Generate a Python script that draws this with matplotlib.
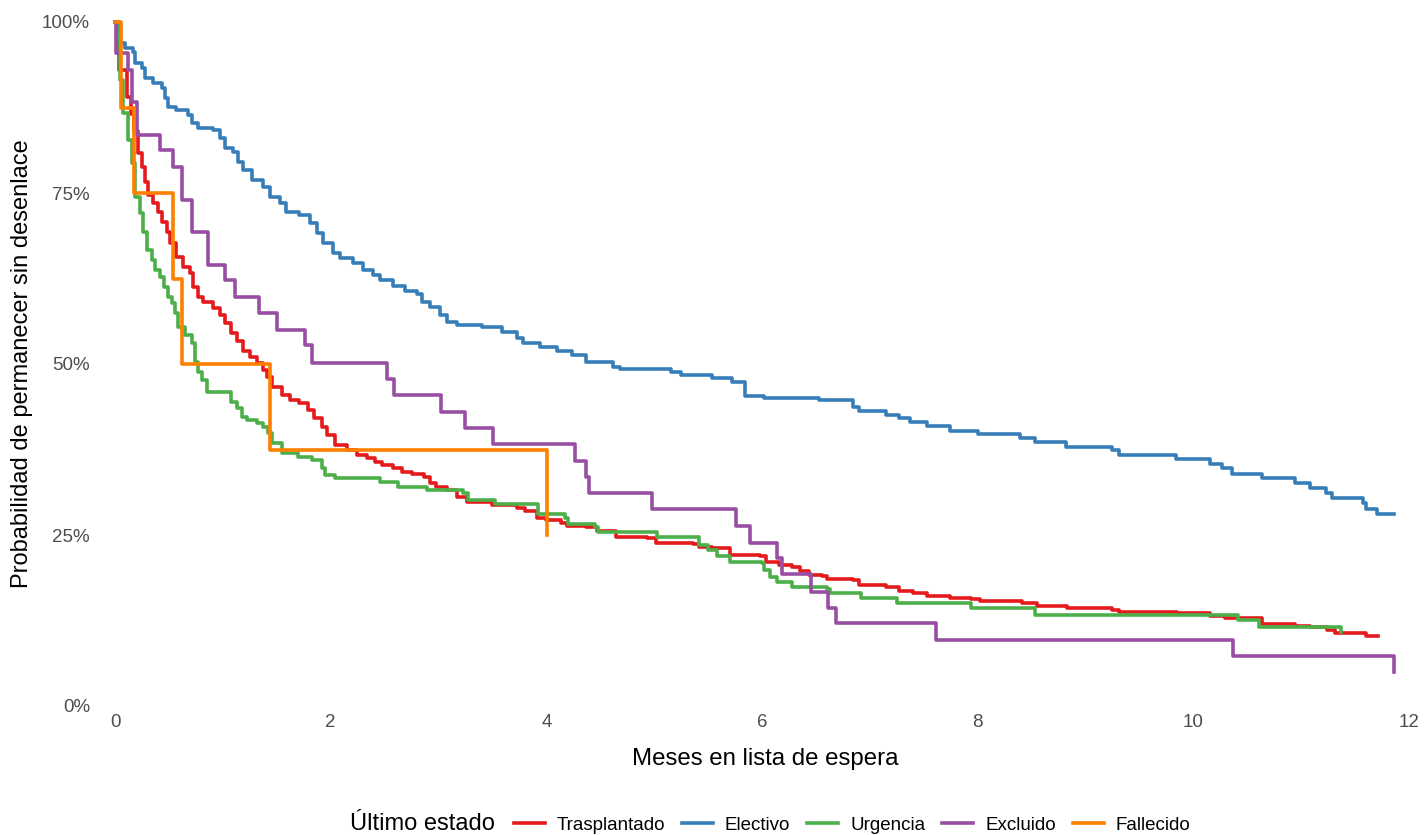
import numpy as np
import matplotlib
matplotlib.use("Agg")
import matplotlib.pyplot as plt
from matplotlib.ticker import FuncFormatter
from matplotlib.lines import Line2D

plt.rcParams['font.family'] = ['Liberation Sans', 'DejaVu Sans']

# Kaplan-Meier style curves: (months, % still waiting)
trasplantado = [(0, 100), (0.04, 93.0), (0.11, 89.0), (0.15, 86.5), (0.18, 84.0), (0.21, 80.8),
                (0.25, 78.8), (0.28, 76.6), (0.31, 74.7), (0.35, 73.5), (0.40, 72.2), (0.44, 70.8),
                (0.48, 69.3), (0.51, 67.7), (0.57, 65.6), (0.63, 64.2), (0.70, 63.3), (0.72, 61.3),
                (0.77, 59.8), (0.82, 59.0), (0.91, 58.2), (0.97, 57.2), (1.02, 56.0), (1.08, 54.5),
                (1.13, 53.4), (1.19, 51.9), (1.25, 51.0), (1.32, 50.1), (1.37, 49.1), (1.41, 48.1),
                (1.46, 46.6), (1.55, 45.5), (1.62, 44.7), (1.71, 44.3), (1.79, 43.3), (1.85, 42.1),
                (1.92, 40.8), (1.97, 39.6), (2.04, 38.2), (2.15, 37.4), (2.24, 36.7), (2.34, 36.3),
                (2.41, 35.7), (2.48, 35.2), (2.58, 34.8), (2.66, 34.2), (2.75, 33.9), (2.87, 33.5),
                (2.92, 32.6), (2.98, 32.0), (3.08, 31.6), (3.17, 30.6), (3.26, 29.8), (3.50, 29.4),
                (3.73, 28.9), (3.80, 28.5), (3.91, 27.5), (4.00, 27.2), (4.14, 26.8), (4.19, 26.3),
                (4.37, 26.2), (4.47, 25.6), (4.65, 24.7), (4.93, 24.6), (5.02, 23.8), (5.36, 23.7),
                (5.42, 23.2), (5.54, 23.1), (5.70, 22.1), (5.98, 21.9), (6.04, 21.1), (6.16, 20.6),
                (6.28, 20.3), (6.35, 19.7), (6.44, 19.2), (6.56, 19.0), (6.60, 18.6), (6.84, 18.4),
                (6.90, 17.7), (7.15, 17.4), (7.27, 16.8), (7.40, 16.5), (7.53, 16.1), (7.74, 15.8),
                (7.94, 15.6), (8.02, 15.4), (8.41, 15.1), (8.55, 14.6), (8.83, 14.3), (9.25, 14.0),
                (9.31, 13.7), (9.85, 13.6), (10.15, 13.2), (10.29, 12.9), (10.64, 12.0), (10.94, 11.7),
                (11.08, 11.5), (11.24, 11.1), (11.31, 10.7), (11.60, 10.2), (11.71, 10.2)]

electivo = [(0, 100), (0.02, 98.4), (0.05, 96.9), (0.09, 96.2), (0.17, 95.6), (0.19, 94.0),
            (0.25, 93.3), (0.28, 91.8), (0.35, 91.1), (0.44, 90.4), (0.46, 88.9), (0.49, 87.6),
            (0.57, 87.1), (0.68, 86.4), (0.71, 85.2), (0.77, 84.5), (0.91, 84.2), (0.97, 83.0),
            (1.02, 81.6), (1.09, 81.0), (1.14, 79.5), (1.19, 78.4), (1.27, 76.9), (1.37, 75.9),
            (1.44, 74.4), (1.53, 73.5), (1.59, 72.2), (1.71, 71.8), (1.81, 70.6), (1.87, 69.2),
            (1.93, 67.7), (2.02, 66.2), (2.09, 65.5), (2.21, 64.8), (2.30, 63.7), (2.39, 63.0),
            (2.46, 62.3), (2.58, 61.4), (2.69, 60.7), (2.80, 60.2), (2.85, 59.1), (2.92, 58.3),
            (3.01, 57.2), (3.08, 56.1), (3.17, 55.7), (3.40, 55.4), (3.59, 54.7), (3.73, 53.8),
            (3.78, 53.1), (3.94, 52.5), (4.10, 51.9), (4.24, 51.3), (4.37, 50.3), (4.62, 49.6),
            (4.68, 49.3), (5.16, 48.8), (5.25, 48.4), (5.54, 48.0), (5.72, 47.4), (5.84, 45.3),
            (6.02, 45.0), (6.53, 44.7), (6.84, 43.7), (6.90, 43.1), (7.15, 42.5), (7.27, 42.1),
            (7.37, 41.5), (7.53, 40.9), (7.74, 40.2), (8.00, 39.8), (8.39, 39.2), (8.53, 38.6),
            (8.82, 37.9), (9.25, 37.4), (9.31, 36.7), (9.84, 36.1), (10.15, 35.4), (10.27, 34.8),
            (10.36, 33.9), (10.64, 33.3), (10.94, 32.6), (11.08, 31.9), (11.23, 31.1), (11.29, 30.4),
            (11.57, 29.7), (11.60, 28.8), (11.70, 28.1), (11.86, 28.1)]

urgencia = [(0, 100), (0.02, 97.5), (0.05, 91.5), (0.07, 86.7), (0.12, 82.7), (0.16, 79.4),
            (0.19, 74.4), (0.23, 72.1), (0.26, 69.3), (0.30, 66.7), (0.34, 65.2), (0.37, 63.7),
            (0.42, 62.7), (0.45, 61.3), (0.49, 59.8), (0.53, 58.9), (0.56, 57.5), (0.58, 55.4),
            (0.65, 54.2), (0.71, 53.1), (0.74, 50.3), (0.77, 48.8), (0.81, 47.7), (0.85, 45.9),
            (1.08, 44.4), (1.13, 43.6), (1.18, 42.3), (1.22, 41.8), (1.32, 41.4), (1.37, 40.8),
            (1.42, 39.9), (1.46, 38.5), (1.55, 37.0), (1.70, 36.4), (1.83, 36.0), (1.92, 34.8),
            (1.95, 33.8), (2.04, 33.3), (2.46, 32.7), (2.62, 32.0), (2.89, 31.6), (3.23, 31.1),
            (3.27, 30.1), (3.52, 29.5), (3.92, 28.1), (4.17, 27.5), (4.20, 26.6), (4.45, 26.2),
            (4.48, 25.4), (5.03, 24.7), (5.42, 23.5), (5.50, 22.8), (5.58, 21.9), (5.70, 21.1),
            (6.00, 20.9), (6.02, 19.9), (6.07, 18.9), (6.14, 18.1), (6.28, 17.4), (6.60, 17.1),
            (6.63, 16.5), (6.92, 15.8), (7.25, 15.1), (7.94, 14.3), (8.53, 13.3), (10.41, 12.6),
            (10.61, 11.5), (11.37, 10.8)]

excluido = [(0, 100), (0.01, 95.5), (0.12, 93.0), (0.16, 88.3), (0.20, 83.5), (0.42, 81.3),
            (0.54, 78.8), (0.62, 74.0), (0.71, 69.3), (0.86, 64.5), (1.02, 62.3), (1.11, 59.8),
            (1.34, 57.5), (1.50, 55.0), (1.76, 52.8), (1.83, 50.1), (2.52, 47.8), (2.59, 45.5),
            (3.02, 43.0), (3.25, 40.6), (3.51, 38.3), (4.27, 35.8), (4.37, 33.5), (4.40, 31.1),
            (4.98, 28.8), (5.76, 26.3), (5.89, 23.8), (6.14, 21.6), (6.19, 19.3), (6.45, 16.7),
            (6.61, 14.3), (6.69, 12.1), (7.61, 9.6), (10.37, 7.3), (11.86, 5.0)]

fallecido = [(0, 100), (0.06, 87.5), (0.18, 75.0), (0.54, 62.5), (0.62, 50.0), (1.44, 37.5),
             (4.01, 25.0)]

groups = ['Trasplantado', 'Electivo', 'Urgencia', 'Excluido', 'Fallecido']
curves = [trasplantado, electivo, urgencia, excluido, fallecido]
colors = ['#E41A1C', '#377EB8', '#4DAF4A', '#984EA3', '#FF7F00']

fig = plt.figure(figsize=(14.28, 8.35), dpi=100)
ax = fig.add_axes([115 / 1428, 129 / 835, 1294 / 1428, 684 / 835])

for name, pts, col in zip(groups, curves, colors):
    t = [p[0] for p in pts]
    s = [p[1] for p in pts]
    ax.step(t, s, where='post', color=col, lw=2.6, label=name, clip_on=False)

ax.set_xlim(0, 12)
ax.set_ylim(0, 100)
ax.set_xticks([0, 2, 4, 6, 8, 10, 12])
ax.set_yticks([0, 25, 50, 75, 100])
ax.yaxis.set_major_formatter(FuncFormatter(lambda v, p: f"{v:.0f}%"))
ax.tick_params(length=0, labelsize=13.5, labelcolor='#4D4D4D')
ax.tick_params(axis='y', pad=18)
ax.tick_params(axis='x', pad=6)
for sp in ax.spines.values():
    sp.set_visible(False)

fig.text(765 / 1428, 1 - 759 / 835, 'Meses en lista de espera', fontsize=17.3,
         ha='center', va='center')
fig.text(22 / 1428, 1 - 364 / 835, 'Probabilidad de permanecer sin desenlace', fontsize=17,
         ha='center', va='center', rotation=90)

# legend along the bottom, title on the left
handles = [Line2D([], [], color=c, lw=2.6) for c in colors]
fig.text(350 / 1428, 1 - 824 / 835, 'Último estado', fontsize=17, ha='left', va='center')
fig.legend(handles, groups, loc='center', bbox_to_anchor=(852 / 1428, 1 - 825 / 835),
           ncol=5, frameon=False, fontsize=13.5, handlelength=1.65, handletextpad=0.64,
           columnspacing=0.9, borderpad=0, borderaxespad=0)

fig.savefig('out.png', dpi=100, facecolor='white')
